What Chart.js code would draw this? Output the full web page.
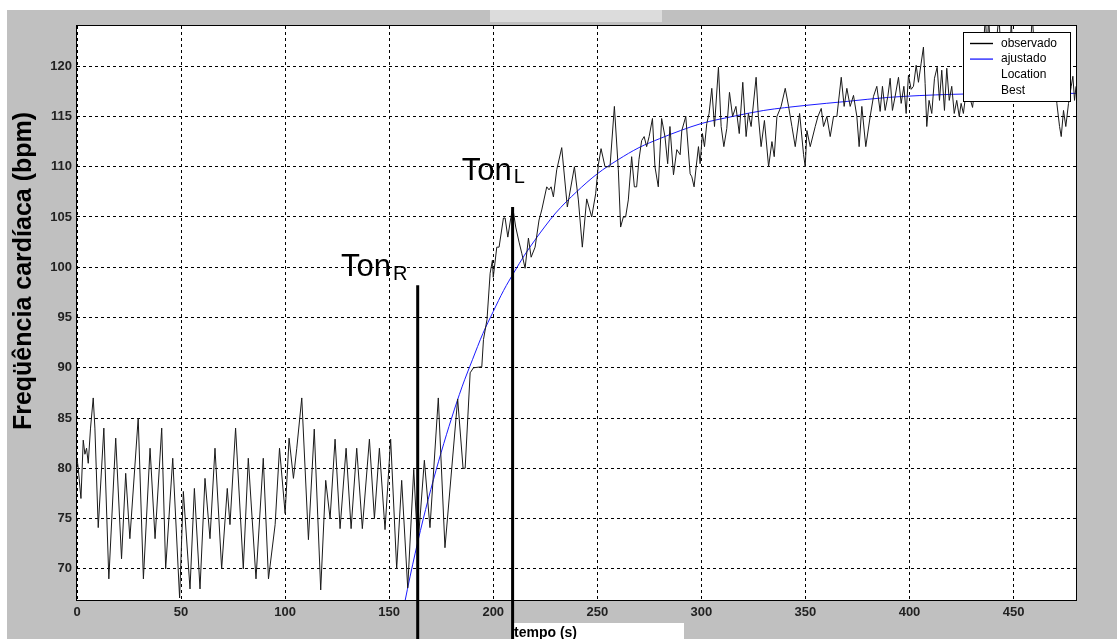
<!DOCTYPE html>
<html><head><meta charset="utf-8">
<script src="https://cdn.jsdelivr.net/npm/chart.js@4.4.0/dist/chart.umd.min.js"></script>
<style>html,body{margin:0;padding:0;background:#fff;overflow:hidden}canvas{display:block}</style>
</head><body>
<canvas id="c" width="1117" height="639"></canvas>
<script>
// ---- data ----
const tempo = [0,0.6,1.9,3,3.8,4.6,5.4,6.5,7.8,8.6,10.2,12.9,15.3,18.6,21.4,23.4,25.4,29.4,31.9,35.1,37.5,40.7,42.6,46,49.3,51.1,54.3,56.4,59.1,61.5,63.9,66.3,69.5,72.2,73.5,76.2,79.9,82.3,86,89.5,92,95.2,97.3,100,101.9,104,105.6,108,111.2,114,117.1,119.5,121.6,124,126.4,129.3,131.7,134.4,137.1,140.5,142.9,145.3,148,150.7,153.6,156,158.9,161.8,163.7,164.8,166.9,169.6,173.6,176.8,182.9,185.5,186.5,188.9,190.5,194.5,195.3,197,198.5,199.6,200,201.7,202.8,204.9,205.7,207,208.5,209.4,210.8,212.4,213.7,215.3,216.9,218.2,220.1,222,223.3,225.7,226.8,227.8,228.9,230.5,232.9,235.6,239,240.9,242.8,244.9,247.3,249.2,250.5,251.8,253.7,256.1,258.2,260.1,261.2,262.5,263.6,264.9,266.5,267.8,268.9,270,271.3,272.5,273.7,274.9,276.5,277.7,279.3,280.9,282.5,283.8,284.9,286.6,288.2,289.8,290.6,292.5,294.6,295.4,296.5,297.5,298.6,299.4,300.5,301.5,302.6,303.7,305,306.3,308.2,309.5,310.8,312.2,313.5,315,316.6,318.2,319.9,321.5,322.6,323.9,326.3,327.4,328.7,330.3,332.3,333.9,335,336.3,338.3,340.3,341.9,343.5,345.1,347.2,349.1,349.9,350.7,352.3,354.7,356,357.6,358.7,360.3,361.9,363.5,365.1,367.2,368.6,369.9,371.5,373.1,374.7,375.8,377.1,379,381.1,382.7,384.3,385.9,387,388.3,389.6,390.7,391.8,393.1,394.7,396,397.3,398.4,399.5,400.8,401.9,403.2,404.3,405.6,406.7,407.5,408.3,409.4,410.7,412,413.3,414.4,415.5,416.8,417.9,419.1,420.3,421.5,422.7,423.9,424.8,425.9,427.5,428.8,430.3,432,433.5,435,436.5,437.3,438,439.5,441,443,444.5,446,447.5,448.9,450.5,452,453.5,455,457,459,460.5,462,464,465.5,467,468.5,470,470.8,472.1,472.9,474,475.1,476.4,477.7,478.5,479.3,480];
const observado = [81,80,77,82.8,81.4,82,80.5,84,87,84,74.1,84,69,83,71,79.5,73,85,69,82,73,84,70,81,67.1,77.7,68,78,68,79,73,82,70,78,74.4,84,70,81,69,81,69,74.4,82,75.5,83,79,82,87,72.9,83.9,67.9,78.8,75,82.9,74,82,74,82,74,82.9,75,82,73.9,82.9,70,78.8,68.1,79.9,72.2,75,80.8,74.1,87,72.1,86.9,80,80,89.5,90,90.1,92.8,94.8,99.4,100.7,99,102,102,104.9,104.9,103,105,105.9,104,102.5,101.4,99.9,102.9,101,102,104.7,105.7,108,107.7,108,107,109.7,111.9,106,110,106.7,102,106.8,105,107.3,110.2,111.8,110,110,116,109.7,104,105,105,106.7,111,108,108,110.7,112.6,113,112,113,114.8,110,108,114.8,113,110.3,114,109.2,111.7,111.2,113.6,115,109.3,109,108,110,112,110.3,113.3,112,114.3,115.3,117.8,114,119.9,114,112,113.8,117.4,115,116,113.3,118.4,113,115.3,114,118.9,115,112,114.6,110,112.5,111,115,116,117.8,116,114,112,115.3,111.2,110,113.6,112,114,115,115.8,114,115,113,115,115,118.9,116,117.8,116,117.1,115,112,116,112,115,117,118,115.5,118,115.6,117,118.8,115.6,117,118.9,116.3,118,115.3,119.1,117.7,118,120.1,118.4,120.3,121.9,118.3,114,116.6,115.3,118.8,119.9,116.6,119.6,115.6,119.8,116.6,118,115.3,116.6,115,116.3,115.3,118,117,115.9,119,117.5,120.5,125,121,125,119,121,125,119,121.5,117.5,124.5,118,121,118.5,121,118,125,120,117.5,121,118,120.5,117.5,119,116.3,114,113,115.6,114,116.3,118,119,116.6,118];
const tempoAjuste = [155,160,165,170,175,180,185,190,195,200,205,210,215,220,225,230,240,250,260,270,280,290,300,315,330,350,370,390,420,450,480];
const ajustado = [64.1,69.2,73.8,77.9,81.6,85.0,88.1,90.8,93.4,95.6,97.7,99.5,101.2,102.7,104.1,105.4,107.5,109.3,110.7,111.9,112.8,113.6,114.3,115.0,115.6,116.1,116.5,116.9,117.2,117.3,117.3];
const xTicks = [0,50,100,150,200,250,300,350,400,450];
const yTicks = [70,75,80,85,90,95,100,105,110,115,120];
const tonTempo = [163.7, 209.3];
const tonTopo = [98.2, 106];
const tonSub = ['R','L'];
const tonRotuloTempo = [126.9, 184.9];
const tonRotuloValor = [99.1, 108.7];
const legendaNomes = ['observado','ajustado','Location','Best'];
const legendaCores = ['#000000','#2a2aff',null,null];
const tituloY = 'Freqüência cardíaca (bpm)';
const tituloX = 'tempo (s)';

const FONT = '"Liberation Sans", Arial, sans-serif';

const decor = {
  id: 'decor',
  beforeDraw(chart) {
    const ctx = chart.ctx, a = chart.chartArea;
    ctx.save();
    ctx.fillStyle = '#ffffff';
    ctx.fillRect(0, 0, chart.width, chart.height);
    ctx.fillStyle = '#c0c0c0';
    ctx.fillRect(7, 10, chart.width - 7, chart.height - 10);
    ctx.fillStyle = '#dcdcdc';
    ctx.fillRect(490, 10, 172, 12);
    ctx.fillStyle = '#ffffff';
    ctx.fillRect(a.left, a.top, a.right - a.left, a.bottom - a.top);
    ctx.restore();
  },
  afterDraw(chart) {
    const ctx = chart.ctx, a = chart.chartArea;
    const xs = chart.scales.x, ys = chart.scales.y;
    ctx.save();
    // frame
    ctx.strokeStyle = '#000';
    ctx.lineWidth = 1;
    ctx.strokeRect(Math.round(a.left) - 0.5, Math.round(a.top) - 0.5, Math.round(a.right - a.left) + 1, Math.round(a.bottom - a.top) + 1);
    // legend
    const lx = 963, ly = 32, lw = 107, lh = 69;
    ctx.fillStyle = '#fff';
    ctx.fillRect(lx, ly, lw, lh);
    ctx.strokeStyle = '#000';
    ctx.lineWidth = 1;
    ctx.strokeRect(lx + 0.5, ly + 0.5, lw, lh);
    ctx.font = '12px ' + FONT;
    ctx.textBaseline = 'middle';
    ctx.textAlign = 'left';
    legendaNomes.forEach((n, i) => {
      const yy = ly + 11.5 + i * 15.6;
      if (legendaCores[i]) {
        ctx.strokeStyle = legendaCores[i];
        ctx.lineWidth = 1.4;
        ctx.beginPath(); ctx.moveTo(970, yy); ctx.lineTo(993, yy); ctx.stroke();
      }
      ctx.fillStyle = '#000';
      ctx.fillText(n, 1001, yy);
    });
    // y title
    ctx.save();
    ctx.translate(31, (a.top + a.bottom) / 2 - 42);
    ctx.rotate(-Math.PI / 2);
    ctx.font = 'bold 25px ' + FONT;
    ctx.textAlign = 'center';
    ctx.textBaseline = 'alphabetic';
    ctx.fillStyle = '#000';
    ctx.fillText(tituloY, 0, 0);
    ctx.restore();
    // x title box
    ctx.fillStyle = '#fff';
    ctx.fillRect(512, 623, 172, 16);
    ctx.font = 'bold 14px ' + FONT;
    ctx.fillStyle = '#000';
    ctx.textAlign = 'left';
    ctx.textBaseline = 'alphabetic';
    ctx.fillText(tituloX, 514, 637);
    // Ton lines and labels
    ctx.strokeStyle = '#000';
    ctx.lineWidth = 3;
    tonTempo.forEach((t, i) => {
      const px = xs.getPixelForValue(t);
      const py = ys.getPixelForValue(tonTopo[i]);
      ctx.beginPath(); ctx.moveTo(px, py); ctx.lineTo(px, chart.height); ctx.stroke();
      const tx = xs.getPixelForValue(tonRotuloTempo[i]);
      const ty = ys.getPixelForValue(tonRotuloValor[i]);
      ctx.font = '31px ' + FONT;
      ctx.fillStyle = '#000';
      ctx.fillText('Ton', tx, ty);
      const w = ctx.measureText('Ton').width;
      ctx.font = '20px ' + FONT;
      ctx.fillText(tonSub[i], tx + w + 2, ty + 3.5);
    });
    ctx.restore();
  }
};

new Chart(document.getElementById('c'), {
  type: 'line',
  data: {
    datasets: [
      { label: 'observado', data: tempo.map((t, i) => ({x: t, y: observado[i]})), borderColor: '#1a1a1a', borderWidth: 1, pointRadius: 0, tension: 0, fill: false },
      { label: 'ajustado', data: tempoAjuste.map((t, i) => ({x: t, y: ajustado[i]})), borderColor: '#1a1aff', borderWidth: 1, pointRadius: 0, tension: 0.4, cubicInterpolationMode: 'monotone', fill: false }
    ]
  },
  options: {
    responsive: false,
    animation: false,
    devicePixelRatio: 1,
    layout: { padding: { left: 0, top: 26, right: 41, bottom: 0 } },
    plugins: { legend: { display: false }, tooltip: { enabled: false } },
    scales: {
      x: {
        type: 'linear', min: 0, max: 480,
        afterBuildTicks: s => { s.ticks = xTicks.map(v => ({value: v})); },
        afterFit: s => { s.height = 39; },
        grid: { color: '#000', lineWidth: 1, drawTicks: false },
        border: { display: false, dash: [3, 3] },
        ticks: { padding: 5, color: '#222', font: { family: FONT, size: 13, weight: 'bold' }, maxRotation: 0 }
      },
      y: {
        type: 'linear', min: 66.9, max: 124,
        afterBuildTicks: s => { s.ticks = yTicks.map(v => ({value: v})); },
        afterFit: s => { s.width = 77; },
        grid: { color: '#000', lineWidth: 1, drawTicks: false },
        border: { display: false, dash: [3, 3] },
        ticks: { padding: 5, color: '#222', font: { family: FONT, size: 13, weight: 'bold' } }
      }
    }
  },
  plugins: [decor]
});
</script>
</body></html>
